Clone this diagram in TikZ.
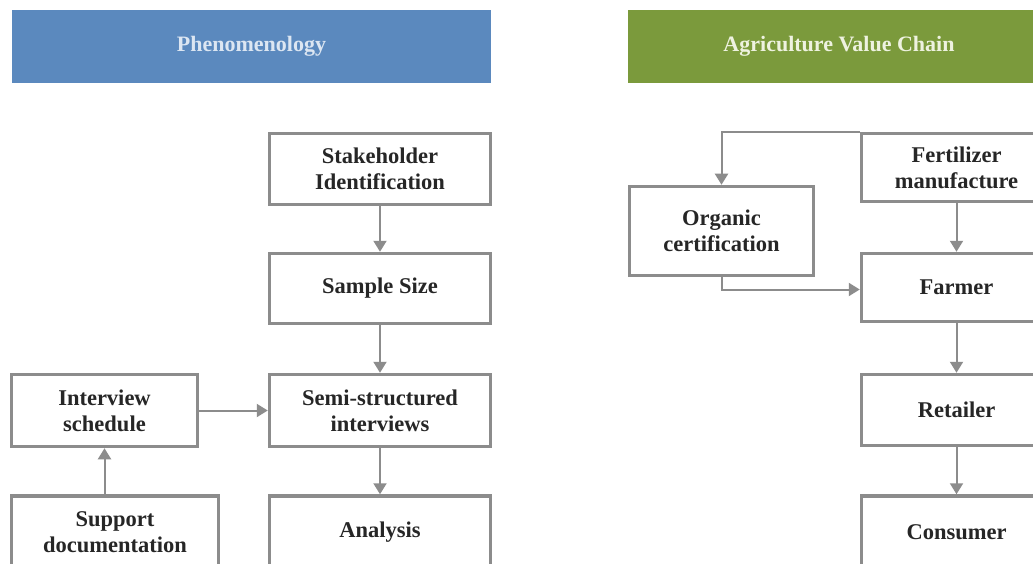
\documentclass[tikz,border=0pt]{standalone}
\usepackage{fontspec}
\setmainfont{Liberation Serif}
\usetikzlibrary{arrows.meta}
\definecolor{boxgray}{HTML}{8C8C8C}
\definecolor{txtdark}{HTML}{262626}
\definecolor{hblue}{HTML}{5B89BE}
\definecolor{hgreen}{HTML}{7B9A3C}
\definecolor{hbluetxt}{HTML}{DCE6F2}
\definecolor{hgreentxt}{HTML}{EEF2E0}
\tikzset{
  stepbox/.style={draw=boxgray, line width=3.5pt, fill=white, align=center,
    inner sep=0pt, text=txtdark,
    font=\fontsize{22.5}{26}\selectfont\bfseries},
  header/.style={inner sep=0pt, minimum height=73pt,
    font=\fontsize{22}{26}\selectfont\bfseries},
  arr/.style={draw=boxgray, line width=2pt,
    -{Triangle[width=13pt,length=11pt]}},
}
\begin{document}
\begin{tikzpicture}[x=1pt,y=-1pt]
\clip (0,0) rectangle (1033,564);
\fill[white] (0,0) rectangle (1033,564);
% headers
\node[header, fill=hblue, text=hbluetxt, minimum width=479pt] (hphen) at (251.5,46.5) {Phenomenology};
\node[header, fill=hgreen, text=hgreentxt, minimum width=422pt] (hagri) at (839,46.5) {Agriculture Value Chain};
% left column
\node[stepbox, minimum width=221pt, minimum height=71pt] (stake) at (380,169) {Stakeholder\\Identification};
\node[stepbox, minimum width=221pt, minimum height=70pt] (sample) at (380,288.5) {Sample Size};
\node[stepbox, minimum width=221pt, minimum height=72pt] (semi) at (380,410.5) {Semi-structured\\interviews};
\node[stepbox, minimum width=221pt, minimum height=72pt] (anal) at (380,532) {Analysis};
\node[stepbox, minimum width=186pt, minimum height=72pt] (inter) at (104.5,410.5) {Interview\\schedule};
\node[stepbox, minimum width=207pt, minimum height=72pt] (supp) at (115,532) {Support\\documentation};
% right column
\node[stepbox, minimum width=190pt, minimum height=68pt] (fert) at (956.5,167.5) {Fertilizer\\manufacture};
\node[stepbox, minimum width=184pt, minimum height=89pt] (org) at (721.5,231) {Organic\\certification};
\node[stepbox, minimum width=190pt, minimum height=68pt] (farm) at (956.5,287.5) {Farmer};
\node[stepbox, minimum width=190pt, minimum height=71pt] (ret) at (956.5,410) {Retailer};
\node[stepbox, minimum width=190pt, minimum height=72pt] (cons) at (956.5,532) {Consumer};
% connectors left
\draw[arr] (stake) -- (sample);
\draw[arr] (sample) -- (semi);
\draw[arr] (semi) -- (anal);
\draw[arr] (inter) -- (semi);
\draw[arr] (inter.south |- supp.north) -- (inter.south);
% connectors right
\draw[arr] (fert.north west) -| (org.north);
\draw[arr] (org.south) |- ([yshift=-2pt]farm.west);
\draw[arr] (fert) -- (farm);
\draw[arr] (farm) -- (ret);
\draw[arr] (ret) -- (cons);
\end{tikzpicture}
\end{document}
